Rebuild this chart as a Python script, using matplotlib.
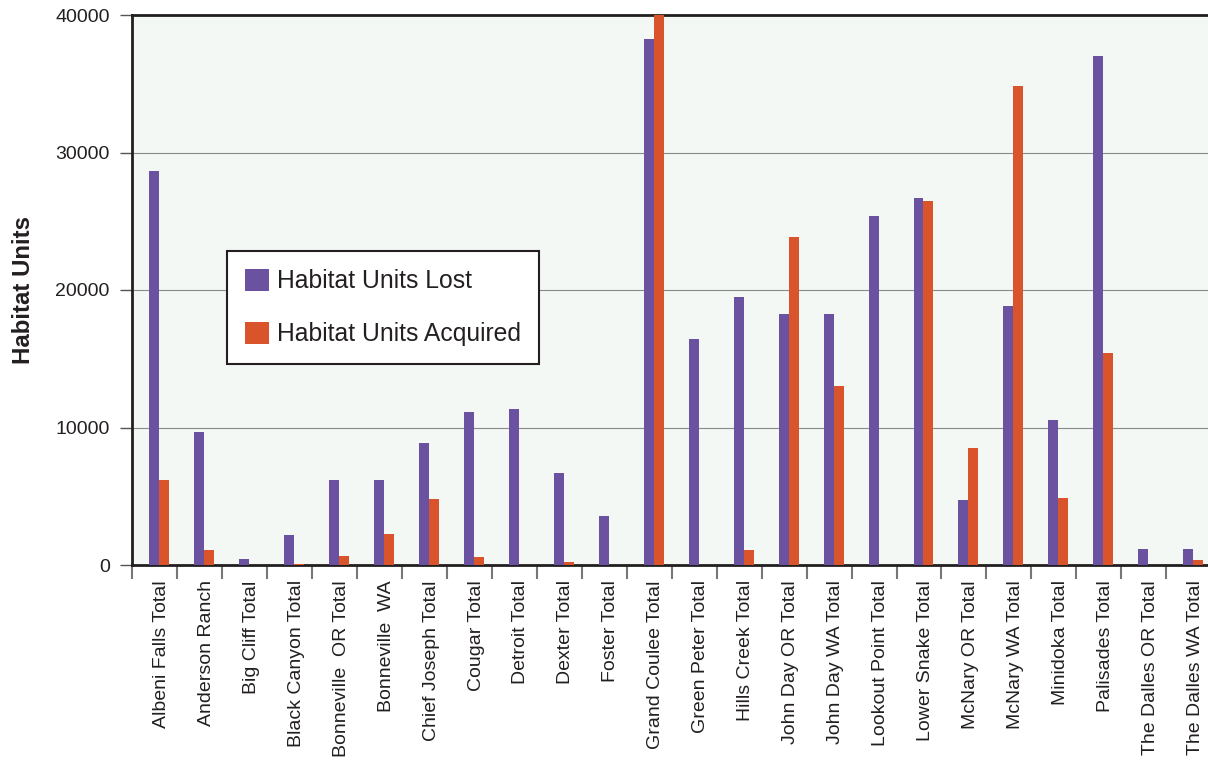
import numpy as np
import matplotlib.pyplot as plt

plt.rcParams['font.family'] = ['Liberation Sans', 'DejaVu Sans']

categories = ['Albeni Falls Total', 'Anderson Ranch', 'Big Cliff Total', 'Black Canyon Total',
              'Bonneville  OR Total', 'Bonneville  WA', 'Chief Joseph Total', 'Cougar Total',
              'Detroit Total', 'Dexter Total', 'Foster Total', 'Grand Coulee Total',
              'Green Peter Total', 'Hills Creek Total', 'John Day OR Total', 'John Day WA Total',
              'Lookout Point Total', 'Lower Snake Total', 'McNary OR Total', 'McNary WA Total',
              'Minidoka Total', 'Palisades Total', 'The Dalles OR Total', 'The Dalles WA Total']
units_lost = [28650, 9670, 440, 2200, 6200, 6200, 8900, 11100, 11350, 6700, 3550, 38250,
              16450, 19500, 18250, 18250, 25400, 26700, 4700, 18850, 10550, 37000, 1200, 1200]
units_acquired = [6200, 1100, 0, 100, 650, 2250, 4800, 550, 0, 200, 0, 40600,
                  0, 1100, 23850, 13000, 0, 26500, 8500, 34850, 4900, 15400, 0, 350]

purple = '#6a52a0'
orange = '#d9542b'
text_col = '#231f20'

fig = plt.figure(figsize=(12.08, 7.64), dpi=100)
ax = fig.add_axes([132 / 1208, 1 - 565 / 764, (1211.3 - 132) / 1208, 550 / 764])
ax.set_facecolor('#f3f8f4')

x = np.arange(len(categories))
w = 0.222
ax.bar(x - 0.011, units_lost, width=w, color=purple,
       label='Habitat Units Lost', zorder=3)
ax.bar(x + 0.211, units_acquired, width=w, color=orange,
       label='Habitat Units Acquired', zorder=3)

ax.set_xlim(-0.5, len(categories) - 0.5)
ax.set_ylim(0, 40000)
ax.set_yticks([0, 10000, 20000, 30000, 40000])
ax.tick_params(axis='y', labelsize=14, length=9, width=1, color='#555555',
               labelcolor=text_col, pad=7)
ax.grid(axis='y', color='#8a8a8a', linewidth=0.8, zorder=1)

ax.set_xticks(x + 0.15)
ax.set_xticklabels(categories, rotation=90, fontsize=14, color=text_col)
ax.tick_params(axis='x', length=0, pad=11)
ax.set_xticks(np.arange(len(categories) + 1) - 0.5, minor=True)
ax.tick_params(axis='x', which='minor', length=10, width=1.5, color='#777777')

for side in ['left', 'bottom', 'top']:
    ax.spines[side].set_linewidth(2)
    ax.spines[side].set_color(text_col)
ax.spines['right'].set_visible(False)

ax.set_ylabel('Habitat Units', fontsize=17.3, fontweight='bold', color=text_col)
ax.yaxis.set_label_coords((35 - 132) / 1079.3, 0.5)

leg = ax.legend(loc='upper left', bbox_to_anchor=((227 - 132) / 1079.3, (565 - 251) / 550),
                fontsize=17.8, frameon=True, fancybox=False, borderpad=0.72,
                labelspacing=1.15, handlelength=0.98, handleheight=1.0,
                handletextpad=0.34, borderaxespad=0)
leg.get_frame().set_edgecolor(text_col)
leg.get_frame().set_linewidth(1.5)
leg.get_frame().set_facecolor('white')
leg.get_frame().set_alpha(1)
for t in leg.get_texts():
    t.set_color(text_col)

fig.savefig('out.png', dpi=100)
